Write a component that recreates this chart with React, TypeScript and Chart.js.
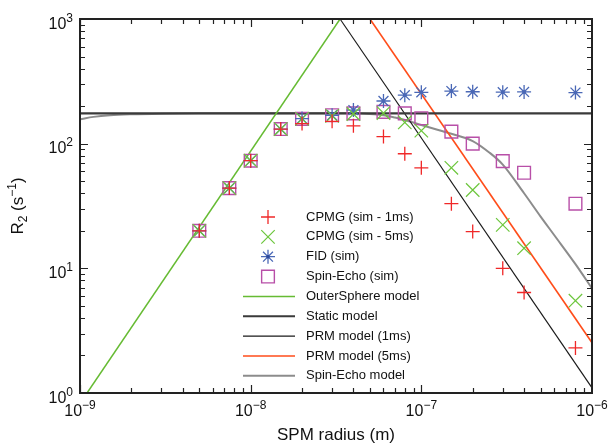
import React, { useEffect, useRef } from 'react';
import { Chart, registerables } from 'chart.js';
import { drawPoint } from 'chart.js/helpers';
Chart.register(...registerables);

const FONT = '"Liberation Sans", Arial, Helvetica, sans-serif';

// Tick labels (powers of ten)
const xTickValues = [1e-9, 1e-8, 1e-7, 1e-6];
const xTickExponents = ['−9', '−8', '−7', '−6'];
const yTickValues = [1, 10, 100, 1000];
const yTickExponents = ['0', '1', '2', '3'];

// Simulated data (SPM radius in m, R2 in 1/s)
const radii = [5e-9, 7.5e-9, 1e-8, 1.5e-8, 2e-8, 3e-8, 4e-8, 6e-8, 8e-8, 1e-7, 1.5e-7, 2e-7, 3e-7, 4e-7, 8e-7];
const cpmg1ms = [20, 44, 73, 131, 145, 151, 139, 114, 83, 64, 33, 19.7, 10, 6.4, 2.3];
const cpmg5ms = [20, 44, 73, 131, 158, 167, 173, 176, 148, 127, 64, 42.5, 22.3, 14.5, 5.5];
const fid = [20, 44, 73, 131, 159, 169, 186, 220, 245, 258, 264, 261, 259, 260, 257];
const spinEchoSim = [20, 44, 73, 131, 158, 169, 175, 180, 175, 160, 125, 100, 72.5, 58.4, 33];

// Models
const outerSphereR = [1.1e-9, 3.34e-8];
const outerSphereR2 = [1, 1000];
const staticR = [1e-9, 1e-6];
const staticR2 = [175, 175];
const prm1msR = [3.34e-8, 1e-6];
const prm1msR2 = [1000, 1.1];
const prm5msR = [5.0e-8, 1e-6];
const prm5msR2 = [1000, 2.53];
const seModelR = [1e-9, 1.2e-9, 1.5e-9, 2e-9, 3e-9, 5e-9, 1e-8, 2e-8, 3e-8, 4e-8, 5e-8, 6e-8, 7e-8, 8e-8, 1e-7, 1.2e-7, 1.5e-7, 2e-7, 2.5e-7, 3e-7, 4e-7, 5e-7, 6e-7, 8e-7, 1e-6];
const seModelR2 = [157, 164, 169, 172, 174, 175, 175, 175, 175, 175, 173, 169, 162, 155, 141, 131, 120, 105, 85, 68, 40, 26, 18.5, 10.8, 6.9];

const xTitle = 'SPM radius (m)';

const pts = (xs: number[], ys: number[]) => xs.map((x, i) => ({ x, y: ys[i] }));

function drawPow(ctx: CanvasRenderingContext2D, x: number, baseline: number, exp: string, align: 'center' | 'right') {
  ctx.font = `16px ${FONT}`;
  const wb = ctx.measureText('10').width;
  ctx.font = `12px ${FONT}`;
  const ws = ctx.measureText(exp).width;
  const total = wb + ws;
  const left = align === 'center' ? x - total / 2 : x - total;
  ctx.textAlign = 'left';
  ctx.textBaseline = 'alphabetic';
  ctx.font = `16px ${FONT}`;
  ctx.fillText('10', left, baseline);
  ctx.font = `12px ${FONT}`;
  ctx.fillText(exp, left + wb, baseline - 7);
}

const framePlugin = {
  id: 'frame',
  afterDatasetsDraw(chart: any) {
    const { ctx, chartArea: a, scales } = chart;
    const xs = scales.x;
    const ys = scales.y;
    ctx.save();
    ctx.strokeStyle = '#222';
    ctx.lineWidth = 1.2;
    ctx.beginPath();
    for (let d = -9; d < -6; d++) {
      for (let k = 1; k <= 9; k++) {
        const v = k * Math.pow(10, d);
        const px = Math.round(xs.getPixelForValue(v)) + 0.5;
        const len = k === 1 ? 8 : 5;
        ctx.moveTo(px, a.bottom);
        ctx.lineTo(px, a.bottom - len);
        ctx.moveTo(px, a.top);
        ctx.lineTo(px, a.top + len);
      }
    }
    for (let d = 0; d < 3; d++) {
      for (let k = 1; k <= 9; k++) {
        const v = k * Math.pow(10, d);
        const py = Math.round(ys.getPixelForValue(v)) + 0.5;
        const len = k === 1 ? 8 : 5;
        ctx.moveTo(a.left, py);
        ctx.lineTo(a.left + len, py);
        ctx.moveTo(a.right, py);
        ctx.lineTo(a.right - len, py);
      }
    }
    ctx.stroke();
    ctx.lineWidth = 2;
    ctx.strokeRect(a.left, a.top, a.right - a.left, a.bottom - a.top);

    // tick labels
    ctx.fillStyle = '#111';
    xTickValues.forEach((v, i) => {
      drawPow(ctx, xs.getPixelForValue(v), a.bottom + 23, xTickExponents[i], 'center');
    });
    yTickValues.forEach((v, i) => {
      drawPow(ctx, a.left - 7, ys.getPixelForValue(v) + 9.5, yTickExponents[i], 'right');
    });

    // axis titles
    ctx.font = `17px ${FONT}`;
    ctx.textAlign = 'center';
    ctx.textBaseline = 'alphabetic';
    ctx.fillText(xTitle, (a.left + a.right) / 2, a.bottom + 47);

    ctx.save();
    ctx.translate(23, (a.top + a.bottom) / 2);
    ctx.rotate(-Math.PI / 2);
    const parts: [string, number, number][] = [['R', 17, 0], ['2', 12, 4], [' (s', 17, 0], ['−1', 12, -7], [')', 17, 0]];
    let tw = 0;
    parts.forEach(([t, s]) => { ctx.font = `${s}px ${FONT}`; tw += ctx.measureText(t).width; });
    let cx = -tw / 2;
    ctx.textAlign = 'left';
    parts.forEach(([t, s, dy]) => {
      ctx.font = `${s}px ${FONT}`;
      ctx.fillText(t, cx, dy);
      cx += ctx.measureText(t).width;
    });
    ctx.restore();

    // legend
    const items = chart.data.datasets.filter((ds: any) => !ds.label.startsWith('_'));
    const markerX = a.left + 188;
    const lineX0 = a.left + 163;
    const lineX1 = a.left + 215;
    const textX = a.left + 226;
    const row0 = a.top + 198;
    const step = 19.85;
    items.forEach((ds: any, i: number) => {
      const y = row0 + i * step;
      if (ds.showLine) {
        ctx.strokeStyle = ds.borderColor;
        ctx.lineWidth = ds.borderWidth;
        ctx.beginPath();
        ctx.moveTo(lineX0, y);
        ctx.lineTo(lineX1, y);
        ctx.stroke();
      } else {
        ctx.strokeStyle = ds.pointBorderColor;
        ctx.fillStyle = 'rgba(0,0,0,0)';
        ctx.lineWidth = ds.pointBorderWidth;
        drawPoint(ctx, { pointStyle: ds.pointStyle, rotation: 0, radius: ds.pointRadius, borderWidth: ds.pointBorderWidth }, markerX, y);
        if (ds.pointStyle === 'star') {
          ctx.fillStyle = '#2d4a9c';
          ctx.beginPath();
          ctx.arc(markerX, y, 1.8, 0, Math.PI * 2);
          ctx.fill();
        }
      }
      ctx.fillStyle = '#111';
      ctx.font = `13px ${FONT}`;
      ctx.textAlign = 'left';
      ctx.textBaseline = 'middle';
      ctx.fillText(ds.label, textX, y);
    });
    ctx.restore();
  },
};

function markers(label: string, ys: number[], style: string, radius: number, color: string, width: number) {
  return {
    label,
    data: pts(radii, ys),
    showLine: false,
    pointStyle: style,
    pointRadius: radius,
    pointBorderColor: color,
    borderColor: color,
    pointBackgroundColor: 'rgba(0,0,0,0)',
    backgroundColor: 'rgba(0,0,0,0)',
    pointBorderWidth: width,
  };
}

function line(label: string, xs: number[], ys: number[], color: string, width: number, extra: any = {}) {
  return {
    label,
    data: pts(xs, ys),
    showLine: true,
    pointRadius: 0,
    borderColor: color,
    borderWidth: width,
    backgroundColor: color,
    fill: false,
    ...extra,
  };
}

export default function App() {
  const ref = useRef<HTMLCanvasElement>(null);
  useEffect(() => {
    document.body.style.margin = '0';
    const chart = new Chart(ref.current as HTMLCanvasElement, {
      type: 'scatter',
      data: {
        datasets: [
          markers('CPMG (sim - 1ms)', cpmg1ms, 'cross', 7, '#f02828', 1.3),
          markers('CPMG (sim - 5ms)', cpmg5ms, 'crossRot', 9.5, '#6cc63c', 1.2),
          markers('FID (sim)', fid, 'star', 7, '#4a68b6', 1.3),
          {
            label: '_fidDot',
            data: pts(radii, fid),
            showLine: false,
            pointStyle: 'circle',
            pointRadius: 1.8,
            pointBackgroundColor: '#2d4a9c',
            pointBorderWidth: 0,
          },
          markers('Spin-Echo (sim)', spinEchoSim, 'rect', 9, '#b84fa8', 1.4),
          line('OuterSphere model', outerSphereR, outerSphereR2, '#66bb33', 1.5),
          line('Static model', staticR, staticR2, '#3a3a3a', 2.2),
          line('PRM model (1ms)', prm1msR, prm1msR2, '#1a1a1a', 1.1),
          line('PRM model (5ms)', prm5msR, prm5msR2, '#ff4d1a', 1.6),
          line('Spin-Echo model', seModelR, seModelR2, '#8c8c8c', 2, { cubicInterpolationMode: 'monotone' }),
        ] as any,
      },
      options: {
        animation: false,
        responsive: false,
        events: [],
        layout: { padding: { left: 80, right: 18, top: 19, bottom: 52 } },
        plugins: { legend: { display: false }, tooltip: { enabled: false } },
        scales: {
          x: { type: 'logarithmic', min: 1e-9, max: 1e-6, display: false },
          y: { type: 'logarithmic', min: 1, max: 1000, display: false },
        },
      },
      plugins: [framePlugin],
    });
    return () => chart.destroy();
  }, []);
  return (
    <div style={{ width: 610, height: 445, background: '#fff' }}>
      <canvas ref={ref} width={610} height={445} />
    </div>
  );
}
